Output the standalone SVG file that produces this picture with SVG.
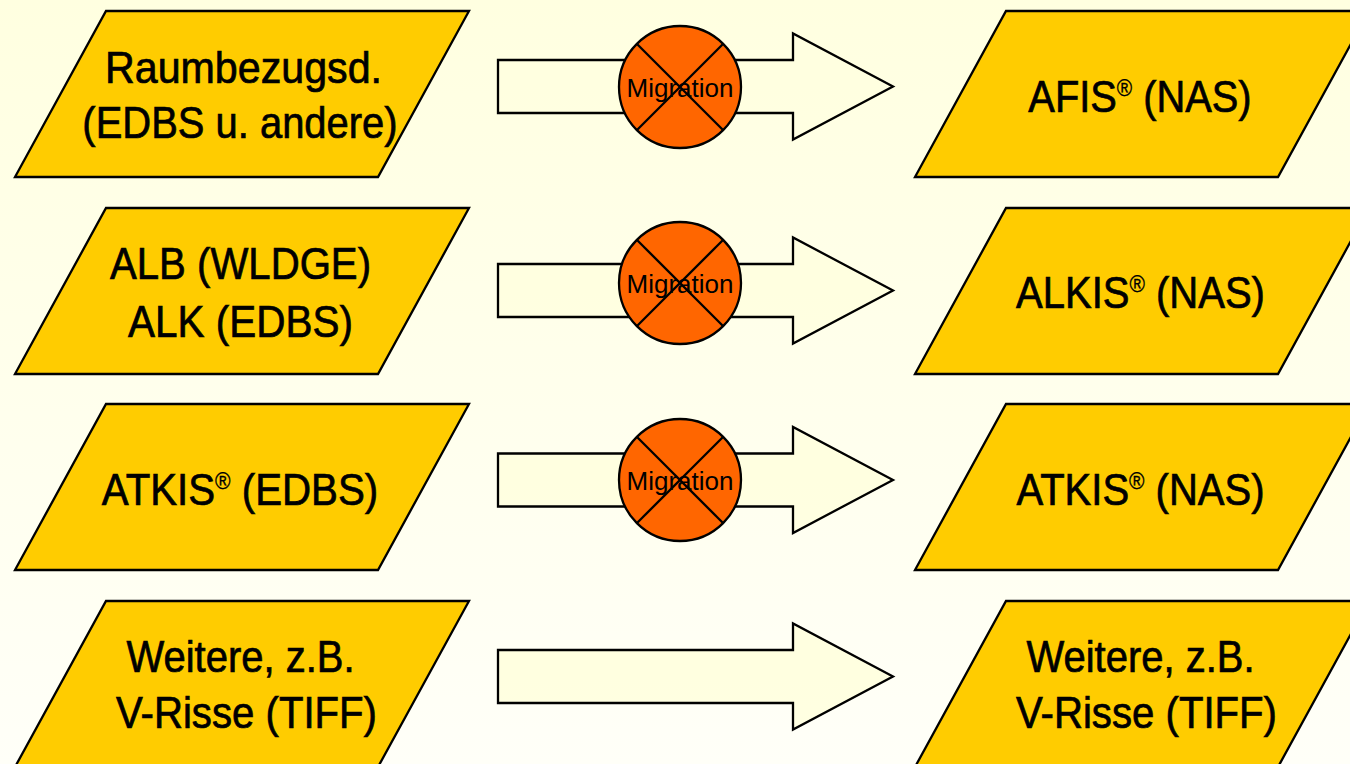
<svg xmlns="http://www.w3.org/2000/svg" width="1350" height="764" viewBox="0 0 1350 764">
<defs>
<linearGradient id="bg" gradientUnits="userSpaceOnUse" x1="0" y1="0" x2="0" y2="764">
<stop offset="0" stop-color="#FFFFE0"/>
<stop offset="1" stop-color="#FFFFF8"/>
</linearGradient>
<polygon id="para" points="91,0 454,0 363,166 0,166"/>
<path id="arrow" d="M498,-26.5 H793 V-53 L893,0 L793,53 V26.5 H498 Z"/>
<g id="mig">
<circle cx="0" cy="0" r="61" class="mc"/>
<line x1="-43" y1="-43" x2="43" y2="43" class="mx"/>
<line x1="43" y1="-43" x2="-43" y2="43" class="mx"/>
<text x="0" y="10" class="ml">Migration</text>
</g>
</defs>
<style>
.box{fill:#FFCC00;stroke:#000;stroke-width:2.3;stroke-linejoin:miter}
.arr{fill:url(#bg);stroke:#000;stroke-width:2.3}
.mc{fill:#FF6600;stroke:#000;stroke-width:2.3}
.mx{stroke:#000;stroke-width:2.3}
.ml{font-family:"Liberation Sans",Arial,sans-serif;font-size:26px;fill:#000;text-anchor:middle}
.t{font-family:"Liberation Sans",Arial,sans-serif;font-size:44px;fill:#000;stroke:#000;stroke-width:0.7;text-anchor:middle}
.r{font-size:23px;stroke-width:0.3}
</style>
<rect x="0" y="0" width="1350" height="764" fill="url(#bg)"/>

<g id="connectors">
<g id="c1"><use href="#arrow" class="arr" transform="translate(0,86.5)"/><use href="#mig" transform="translate(680,87)"/></g>
<g id="c2"><use href="#arrow" class="arr" transform="translate(0,290.5)"/><use href="#mig" transform="translate(680,283)"/></g>
<g id="c3"><use href="#arrow" class="arr" transform="translate(0,480)"/><use href="#mig" transform="translate(680,480)"/></g>
<g id="c4"><use href="#arrow" class="arr" transform="translate(0,676.5)"/></g>
</g>

<g id="src1">
<use href="#para" class="box" transform="translate(15,11)"/>
<text class="t" transform="translate(243.5,83) scale(0.936,1)">Raumbezugsd.</text>
<text class="t" transform="translate(240,138) scale(0.908,1)">(EDBS u. andere)</text>
</g>
<g id="src2">
<use href="#para" class="box" transform="translate(15,208)"/>
<text class="t" transform="translate(240.5,279) scale(0.913,1)">ALB (WLDGE)</text>
<text class="t" transform="translate(240.5,337) scale(0.92,1)">ALK (EDBS)</text>
</g>
<g id="src3">
<use href="#para" class="box" transform="translate(15,404)"/>
<text class="t" transform="translate(240,505) scale(0.915,1)">ATKIS<tspan class="r" dy="-16">®</tspan><tspan dy="16"> (EDBS)</tspan></text>
</g>
<g id="src4">
<use href="#para" class="box" transform="translate(15,601)"/>
<text class="t" transform="translate(240.5,672) scale(0.909,1)">Weitere, z.B.</text>
<text class="t" transform="translate(246.5,728) scale(0.913,1)">V-Risse (TIFF)</text>
</g>

<g id="dst1">
<use href="#para" class="box" transform="translate(915,11)"/>
<text class="t" transform="translate(1140,112) scale(0.905,1)">AFIS<tspan class="r" dy="-16">®</tspan><tspan dy="16"> (NAS)</tspan></text>
</g>
<g id="dst2">
<use href="#para" class="box" transform="translate(915,208)"/>
<text class="t" transform="translate(1140.5,308) scale(0.91,1)">ALKIS<tspan class="r" dy="-16">®</tspan><tspan dy="16"> (NAS)</tspan></text>
</g>
<g id="dst3">
<use href="#para" class="box" transform="translate(915,404)"/>
<text class="t" transform="translate(1140.5,505) scale(0.91,1)">ATKIS<tspan class="r" dy="-16">®</tspan><tspan dy="16"> (NAS)</tspan></text>
</g>
<g id="dst4">
<use href="#para" class="box" transform="translate(915,601)"/>
<text class="t" transform="translate(1140.5,672) scale(0.909,1)">Weitere, z.B.</text>
<text class="t" transform="translate(1146.5,728) scale(0.913,1)">V-Risse (TIFF)</text>
</g>
</svg>
